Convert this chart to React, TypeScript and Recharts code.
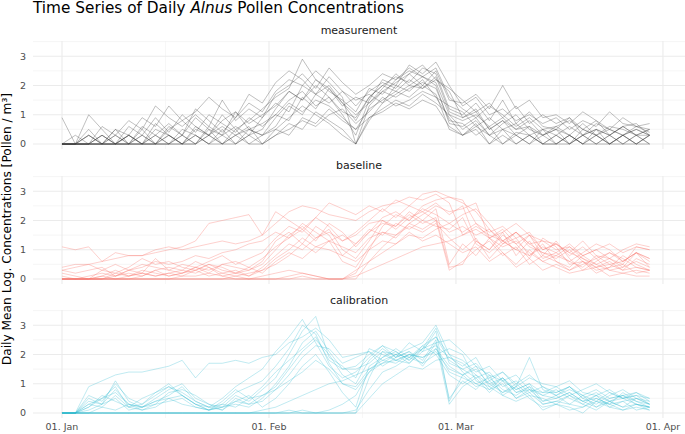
import React from 'react';
import { LineChart, Line, XAxis, YAxis, ReferenceLine } from 'recharts';

// day of year (0 = 01. Jan), every second day
const days = [0, 2, 4, 6, 8, 10, 12, 14, 16, 18, 20, 22, 24, 26, 28, 30, 32, 34, 36, 38, 40, 42, 44,
  46, 48, 50, 52, 54, 56, 58, 60, 62, 64, 66, 68, 70, 72, 74, 76, 78, 80, 82, 84, 86, 88];

const xTicks = [0, 31, 59, 90];
const xTickLabels = ['01. Jan', '01. Feb', '01. Mar', '01. Apr'];
const xMinor = [15.5, 45, 74.5];
const yTicks = [0, 1, 2, 3];
const yMinor = [0.5, 1.5, 2.5, 3.5];

const measurement: number[][] = [
  [0.9, 0, 0.3, 0, 0.5, 0.3, 0.9, 0.6, 1.3, 0.8, 1.1, 1.6, 1.2, 0.9, 1.7, 1.4, 2.1, 2.5, 2.2, 1.7, 2.0, 1.4, 0.8, 1.6, 2.0, 2.3, 2.1, 2.6, 2.4, 1.2, 1.0, 1.4, 0.8, 1.5, 0.7, 1.1, 0.6, 0.5, 0.9, 0.3, 0.7, 0.5, 0.3, 0.6, 0.4],
  [0, 0, 0, 0, 0, 0.3, 0, 0, 0, 0.3, 0, 0.5, 0, 0.3, 0.6, 0, 0.5, 0.9, 1.3, 1.0, 0.7, 0.3, 0, 0.8, 1.4, 1.7, 2.0, 1.9, 2.2, 1.8, 0.9, 1.2, 0.5, 0.8, 0.3, 0.6, 0, 0.3, 0, 0.5, 0.3, 0, 0.3, 0, 0.3],
  [0, 0, 1.0, 0.5, 0, 0.3, 0, 0.7, 0.3, 0, 0.6, 0.3, 1.0, 0.5, 0.8, 1.2, 1.6, 1.9, 2.9, 2.2, 1.8, 1.5, 1.1, 1.9, 1.7, 2.2, 2.5, 2.3, 2.0, 0.7, 0.6, 0.9, 0.3, 0.7, 1.0, 0.5, 0.3, 0.6, 0.3, 0, 0.5, 0.3, 0.6, 0.3, 0],
  [0, 0, 0, 0.3, 0, 0, 0.5, 0, 0.6, 0.3, 0.9, 0.5, 0.3, 1.1, 0.5, 0.3, 0.9, 1.4, 1.1, 1.5, 1.3, 0.9, 0.5, 1.2, 1.5, 1.8, 1.6, 2.0, 1.7, 0.5, 0.3, 0.7, 0, 0.5, 0.3, 0, 0.5, 0, 0.3, 0, 0.3, 0, 0, 0.3, 0],
  [0, 0, 0, 0, 0.3, 0, 0, 0.3, 0, 0, 0.3, 0, 0.5, 0, 0.3, 0.5, 1.2, 1.8, 1.5, 2.0, 1.6, 1.0, 0.3, 1.5, 2.2, 2.0, 2.7, 2.4, 2.8, 2.0, 1.3, 1.6, 1.0, 1.2, 0.8, 1.0, 0.7, 0.9, 0.5, 0.8, 0.6, 1.1, 0.7, 0.6, 0.5],
  [0, 0, 0.3, 0, 0, 0.6, 0.3, 0, 0.5, 0.8, 0.4, 1.0, 0.7, 0.4, 0.9, 0.6, 1.0, 0.8, 1.6, 1.2, 1.9, 1.4, 1.0, 1.4, 1.8, 1.6, 1.9, 2.1, 1.9, 0.8, 0.7, 0.3, 0.6, 0, 0.4, 0.3, 0, 0.3, 0, 0.3, 0.5, 0, 0.3, 0.5, 0.3],
  [0, 0, 0, 0, 0, 0, 0, 0, 0.3, 0, 0, 0.3, 0, 0, 0.5, 0.3, 0.6, 1.3, 1.0, 1.7, 1.4, 1.8, 1.5, 1.7, 1.4, 2.0, 1.8, 2.2, 1.6, 1.3, 1.1, 0.6, 0.9, 0.5, 0.7, 0.3, 0.5, 0.3, 0.6, 0.3, 0, 0.3, 0.6, 0.3, 0.3],
  [0, 0, 0, 0.3, 0, 0.3, 0, 0, 0, 0.5, 0.3, 0, 0.3, 0.6, 0.3, 0.9, 1.4, 1.1, 2.0, 1.7, 2.3, 1.8, 1.3, 1.8, 2.1, 1.9, 2.4, 2.0, 2.5, 1.5, 1.4, 1.7, 1.2, 2.0, 1.2, 1.5, 0.9, 1.0, 0.7, 1.1, 0.8, 0.5, 0.9, 0.6, 0.7],
  [0, 0, 0.3, 0, 0, 0, 0.3, 0, 0, 0.3, 0, 0.6, 0.3, 0, 0.3, 0, 0.3, 0.7, 0.5, 1.1, 0.8, 0.5, 0, 0.9, 1.2, 1.5, 1.3, 1.7, 1.4, 1.0, 0.5, 0.8, 0.3, 0.5, 0, 0.3, 0, 0, 0.3, 0, 0, 0.3, 0, 0, 0.3],
  [0, 0, 0, 0.6, 0.3, 0.8, 0.5, 1.3, 0.9, 0.6, 1.0, 0.6, 1.5, 0.8, 1.2, 0.9, 1.7, 2.0, 2.4, 1.9, 2.6, 2.1, 1.7, 2.0, 2.4, 2.2, 2.6, 2.3, 2.1, 1.0, 0.8, 1.0, 0.6, 0.9, 0.5, 0.8, 0.3, 0.5, 0.3, 0.7, 0.3, 0.5, 0.3, 0.5, 0.3],
  [0, 0.3, 0, 0, 0.5, 0, 0.3, 0.9, 0.4, 1.0, 0.6, 0.3, 0.8, 1.1, 0.7, 1.0, 1.3, 1.8, 1.5, 2.2, 1.9, 1.3, 1.6, 1.4, 1.9, 2.4, 2.0, 2.3, 2.6, 1.6, 1.2, 0.9, 1.3, 1.0, 0.6, 0.9, 0.5, 0.6, 0.8, 0.5, 0.3, 0.6, 0.5, 0.3, 0.5],
  [0, 0, 0, 0, 0, 0, 0, 0.3, 0, 0, 0, 0.3, 0, 0.3, 0, 0, 0.3, 0.5, 0.8, 0.6, 1.0, 1.2, 0.7, 1.1, 1.6, 1.3, 1.5, 1.8, 1.6, 0.9, 0.3, 0.5, 0, 0.3, 0, 0.3, 0, 0, 0.3, 0, 0.3, 0, 0.3, 0, 0],
  [0, 0, 0.5, 0, 0.3, 0, 0.6, 0.3, 0.7, 0.3, 1.2, 0.8, 0.4, 0.9, 1.4, 1.1, 1.8, 2.2, 2.0, 2.5, 2.1, 1.6, 0, 1.3, 1.8, 2.1, 2.4, 2.7, 2.2, 1.9, 1.5, 1.1, 1.4, 0.9, 1.3, 0.7, 1.0, 0.7, 0.9, 0.5, 0.8, 0.3, 0.6, 0.7, 0.3],
  [0, 0, 0, 0, 0, 0.3, 0, 0.5, 0.3, 0, 0.5, 0.3, 0.6, 0.3, 0.5, 0.7, 1.0, 1.5, 1.8, 1.3, 1.6, 1.1, 0.9, 1.6, 2.0, 1.8, 2.2, 1.9, 2.3, 1.1, 0.9, 1.1, 0.5, 0.8, 0.5, 0.6, 0.3, 0.5, 0, 0.3, 0.5, 0.3, 0, 0.3, 0.5],
  [0, 0, 0, 0.3, 0, 0, 0, 0, 0.3, 0, 0.3, 0, 0, 0.5, 0, 0.3, 0.5, 0.3, 0.9, 0.7, 1.2, 0.8, 0.5, 0.9, 1.1, 1.4, 1.2, 1.5, 1.3, 0.6, 0.3, 0.6, 0.3, 0, 0.3, 0, 0.3, 0, 0, 0.3, 0, 0, 0.3, 0, 0.3],
];

const baseline: number[][] = [
  [1.1, 1.0, 1.1, 0.6, 0.9, 0.8, 0.8, 1.0, 1.1, 1.0, 1.1, 1.2, 1.3, 1.2, 1.3, 1.5, 1.9, 2.3, 2.5, 2.4, 2.2, 2.1, 2.0, 2.3, 2.5, 2.6, 2.8, 2.7, 2.9, 2.6, 1.5, 1.8, 1.5, 1.3, 1.6, 1.2, 1.3, 1.0, 1.1, 0.8, 1.0, 1.2, 0.9, 1.1, 1.0],
  [0.4, 0.5, 0.5, 0.6, 0.7, 0.8, 0.8, 0.9, 1.0, 1.1, 1.3, 1.9, 2.0, 2.1, 2.2, 1.5, 2.3, 2.0, 1.7, 2.1, 2.6, 2.4, 2.2, 2.5, 2.3, 2.7, 2.5, 2.9, 3.0, 2.8, 2.7, 1.9, 1.6, 1.8, 1.4, 1.6, 1.0, 1.2, 0.9, 1.3, 0.8, 0.7, 1.0, 1.2, 1.1],
  [0, 0, 0, 0, 0, 0, 0, 0, 0, 0, 0, 0, 0, 0, 0, 0.1, 0.2, 0.3, 0.2, 0.1, 0, 0, 0, 0.6, 1.1, 1.5, 1.9, 2.2, 2.5, 2.3, 2.4, 2.6, 1.4, 1.1, 1.3, 0.9, 0.6, 0.4, 0.2, 0.3, 0.6, 0.9, 0.7, 0.4, 0.3],
  [0.1, 0, 0, 0.1, 0.3, 0.1, 0.2, 0.7, 0.3, 0.2, 0.4, 0.3, 0.5, 0.4, 0.3, 0.6, 1.3, 1.6, 1.2, 1.8, 1.5, 0.8, 1.2, 1.6, 1.9, 1.8, 2.2, 1.9, 2.1, 0.4, 0.5, 1.3, 1.0, 1.5, 1.2, 0.7, 1.4, 1.1, 0.5, 0.6, 0.3, 0.4, 0.8, 0.5, 0.3],
  [0, 0, 0, 0, 0.1, 0.2, 0.1, 0.3, 0.4, 0.3, 0.6, 0.4, 0.2, 0.3, 0.1, 0.4, 0.8, 1.2, 1.0, 1.4, 1.6, 1.3, 1.5, 1.9, 2.0, 1.7, 2.1, 2.3, 2.0, 1.6, 1.8, 1.5, 1.7, 1.2, 1.6, 1.1, 0.9, 0.8, 0.6, 0.9, 1.2, 1.0, 0.6, 0.9, 0.4],
  [0, 0, 0, 0, 0, 0, 0, 0, 0, 0, 0, 0, 0, 0, 0, 0, 0, 0, 0, 0, 0, 0, 0.1, 0.3, 0.5, 0.7, 0.9, 1.1, 1.2, 1.3, 1.5, 1.7, 1.4, 1.6, 1.9, 1.5, 1.3, 1.2, 0.9, 0.7, 0.5, 0.3, 0.2, 0.1, 0.1],
  [0.3, 0.4, 0.5, 0.3, 0.2, 0.4, 0.7, 0.5, 0.6, 0.4, 0.3, 0.5, 0.4, 0.2, 0.3, 0.5, 1.0, 1.5, 1.8, 1.4, 1.7, 1.0, 0.7, 1.3, 2.0, 1.8, 2.3, 2.0, 2.4, 0.5, 1.2, 0.8, 1.4, 0.9, 0.5, 1.0, 0.6, 0.8, 1.1, 0.7, 0.4, 0.6, 0.3, 0.7, 0.5],
  [0, 0, 0.1, 0.2, 0.1, 0.3, 0.2, 0.1, 0.2, 0.1, 0.3, 0.1, 0.2, 0.1, 0.2, 0.3, 0.5, 0.8, 1.2, 0.9, 1.3, 1.1, 0.9, 1.4, 1.6, 1.5, 1.8, 1.6, 1.9, 1.4, 1.0, 1.4, 0.7, 1.2, 1.4, 0.8, 1.1, 0.9, 0.6, 0.4, 0.8, 0.5, 0.6, 0.9, 0.7],
  [0, 0, 0, 0, 0, 0, 0, 0, 0, 0.1, 0.1, 0.2, 0.1, 0, 0, 0, 0, 0, 0.1, 0, 0, 0, 0.2, 1.0, 1.8, 2.2, 2.0, 2.5, 2.7, 2.8, 2.6, 2.3, 1.7, 1.3, 1.0, 1.5, 0.8, 1.3, 0.7, 0.3, 0.4, 0.1, 0.2, 0.3, 0.2],
  [0.2, 0.1, 0, 0.3, 0.5, 0.3, 0.4, 0.6, 0.5, 0.6, 0.8, 0.7, 0.9, 1.0, 1.2, 1.3, 1.6, 1.4, 1.9, 1.6, 1.3, 1.5, 1.2, 1.7, 1.5, 1.9, 1.7, 2.0, 1.8, 1.7, 2.1, 1.2, 0.9, 1.3, 1.0, 0.8, 1.2, 0.6, 0.4, 0.8, 1.0, 0.7, 0.5, 1.1, 1.0],
  [0, 0, 0, 0, 0, 0, 0.1, 0.3, 0.1, 0.2, 0.4, 0.2, 0.5, 0.6, 0.4, 0.7, 1.1, 1.4, 1.7, 1.3, 1.9, 1.6, 1.1, 1.6, 2.1, 2.3, 2.0, 2.4, 2.2, 1.9, 1.6, 1.9, 1.4, 1.7, 1.2, 1.5, 1.0, 1.2, 0.8, 1.1, 0.7, 0.9, 0.6, 0.9, 0.6],
  [0, 0, 0, 0, 0, 0, 0, 0, 0, 0, 0, 0, 0, 0.1, 0, 0, 0, 0.1, 0.2, 0.1, 0, 0, 0.3, 0.6, 0.9, 1.2, 1.5, 1.4, 1.7, 1.9, 2.2, 2.4, 1.9, 1.3, 1.6, 1.2, 0.9, 0.7, 1.0, 0.6, 0.4, 0.5, 0.3, 0.4, 0.3],
  [0.3, 0.2, 0.3, 0.4, 0.1, 0.3, 0.5, 0.4, 0.3, 0.5, 0.4, 0.6, 0.8, 0.5, 0.7, 0.9, 1.4, 1.8, 1.6, 2.1, 1.8, 1.3, 1.6, 2.0, 2.4, 2.1, 2.5, 2.3, 2.6, 2.2, 2.5, 1.3, 1.0, 1.6, 0.8, 1.3, 0.7, 0.9, 1.2, 0.8, 0.5, 0.7, 0.4, 0.9, 0.7],
  [0, 0, 0, 0.1, 0, 0.1, 0.2, 0.1, 0.2, 0.3, 0.2, 0.4, 0.1, 0.2, 0.4, 0.2, 0.6, 0.9, 0.7, 1.1, 1.0, 0.8, 0.6, 1.0, 1.3, 1.2, 1.6, 1.3, 1.5, 1.2, 0.9, 1.1, 0.6, 0.9, 0.4, 0.7, 0.3, 0.5, 0.3, 0.6, 0.2, 0.4, 0.5, 0.2, 0.3],
  [0, 0, 0, 0, 0.2, 0.1, 0.3, 0.2, 0.1, 0.2, 0.3, 0.5, 0.3, 0.2, 0.1, 0.3, 0.7, 1.0, 1.4, 1.1, 1.3, 0.6, 0.4, 1.1, 1.6, 1.4, 1.9, 1.7, 2.0, 0.3, 0.6, 1.0, 1.3, 0.8, 1.1, 0.5, 0.8, 0.6, 0.3, 0.5, 0.7, 0.3, 0.4, 0.6, 0.4],
];

const calibration: number[][] = [
  [0, 0, 0.9, 1.1, 1.3, 1.4, 1.4, 1.5, 1.6, 1.8, 1.2, 1.7, 1.7, 1.8, 1.7, 1.9, 2.0, 2.4, 2.6, 2.9, 2.5, 1.9, 2.0, 2.1, 1.8, 2.0, 1.9, 2.2, 2.6, 1.8, 1.5, 1.7, 1.2, 1.4, 1.0, 1.3, 0.9, 0.7, 0.9, 0.6, 0.8, 0.5, 0.6, 0.4, 0.3],
  [0, 0, 0.5, 0.3, 1.1, 0.4, 0.2, 0.5, 0.8, 1.0, 0.5, 0.3, 0.2, 0.6, 0.4, 0.8, 1.2, 2.0, 2.8, 3.3, 1.9, 1.6, 1.2, 2.2, 2.0, 1.8, 1.7, 2.1, 2.8, 0.4, 1.3, 0.9, 1.1, 0.7, 1.0, 0.6, 0.5, 0.3, 0.6, 0.4, 0.5, 0.3, 0.7, 0.4, 0.2],
  [0, 0, 0, 0, 0, 0, 0, 0, 0, 0, 0, 0, 0, 0, 0, 0, 0, 0, 0, 0, 0, 0, 0, 1.2, 2.1, 2.0, 1.7, 2.2, 2.4, 2.5, 2.1, 1.6, 1.3, 1.1, 0.8, 1.0, 0.4, 0.6, 0.3, 0.2, 0.5, 0.3, 0.4, 0.1, 0.2],
  [0, 0, 0.3, 0.5, 0.9, 0.2, 0.3, 0.6, 0.9, 0.7, 0.4, 0.2, 0.1, 0.4, 0.6, 0.2, 0.5, 1.0, 1.6, 2.0, 1.4, 0.7, 0.2, 1.6, 1.9, 2.1, 1.8, 2.3, 2.0, 1.3, 1.0, 1.3, 0.8, 1.2, 0.7, 0.9, 0.6, 0.8, 0.5, 0.3, 0.6, 0.4, 0.2, 0.5, 0.3],
  [0, 0, 0, 0.2, 0.1, 0.3, 0.2, 0.4, 0.5, 0.3, 0.2, 0.1, 0.3, 0.2, 0.5, 0.9, 1.4, 1.8, 2.2, 2.6, 1.8, 1.5, 1.6, 2.0, 2.3, 1.9, 2.4, 2.1, 2.3, 1.9, 1.6, 1.9, 1.1, 1.4, 0.9, 1.2, 1.0, 0.9, 1.1, 0.7, 0.6, 0.8, 0.5, 0.7, 0.5],
  [0, 0, 0, 0, 0, 0, 0, 0, 0, 0, 0, 0, 0, 0, 0, 0.1, 0.2, 0.4, 0.6, 0.8, 1.0, 1.1, 1.3, 1.5, 1.7, 1.8, 2.0, 1.9, 2.2, 1.6, 1.3, 1.5, 1.0, 1.2, 0.7, 0.8, 0.4, 0.5, 0.7, 0.4, 0.2, 0.5, 0.6, 0.3, 0.2],
  [0, 0, 0.6, 0.4, 1.0, 0.5, 0.3, 0.7, 1.0, 0.6, 0.3, 0.1, 0.4, 0.8, 0.5, 0.6, 0.9, 1.5, 2.1, 2.5, 2.0, 1.3, 1.0, 1.8, 2.2, 1.9, 2.1, 1.8, 2.5, 0.5, 1.1, 0.8, 1.3, 0.6, 0.9, 1.9, 0.8, 0.6, 0.9, 0.5, 0.3, 0.6, 0.8, 0.5, 0.4],
  [0, 0, 0.2, 0.5, 0.7, 0.3, 0.2, 0.4, 0.6, 0.9, 0.4, 0.2, 0.3, 0.7, 0.9, 1.1, 1.6, 2.2, 3.0, 2.7, 1.7, 1.0, 0.8, 1.4, 1.7, 2.0, 2.2, 2.4, 3.0, 2.0, 1.8, 1.4, 1.6, 1.1, 1.3, 0.8, 0.7, 0.9, 0.6, 0.8, 1.0, 0.7, 0.5, 0.6, 0.5],
  [0, 0, 0, 0, 0, 0, 0, 0, 0, 0, 0, 0, 0, 0, 0, 0, 0, 0, 0.1, 0, 0, 0, 0.1, 0.8, 1.4, 1.6, 1.9, 1.7, 2.0, 2.2, 2.0, 1.1, 0.9, 0.6, 0.4, 0.6, 0.1, 0.3, 0.2, 0, 0.4, 0.3, 0.1, 0.2, 0.1],
  [0, 0, 0.4, 0.3, 0.8, 0.3, 0.1, 0.3, 0.7, 0.8, 0.6, 0.3, 0.1, 0.5, 0.3, 0.4, 0.8, 1.3, 1.9, 2.3, 2.2, 1.7, 1.9, 2.1, 1.6, 1.9, 2.1, 1.6, 2.2, 1.4, 1.2, 1.0, 0.8, 1.0, 0.5, 0.7, 0.3, 0.4, 0.3, 0.6, 0.2, 0.4, 0.5, 0.3, 0.1],
  [0, 0, 0.2, 0.6, 0.4, 0.2, 0.5, 0.7, 0.9, 0.6, 0.3, 0.2, 0.5, 0.9, 1.2, 1.5, 2.1, 2.6, 3.2, 2.4, 1.6, 1.2, 1.4, 1.9, 2.3, 2.1, 1.8, 2.2, 2.9, 1.7, 1.5, 1.2, 1.4, 0.9, 1.1, 0.7, 0.9, 0.6, 0.8, 0.6, 0.4, 0.7, 0.5, 0.6, 0.3],
  [0, 0, 0, 0, 0, 0, 0, 0, 0, 0, 0, 0, 0, 0, 0, 0, 0, 0, 0, 0, 0.1, 0.3, 0.6, 1.4, 1.9, 2.2, 1.9, 2.3, 2.6, 2.0, 1.4, 1.0, 1.2, 0.8, 0.6, 0.9, 0.3, 0.4, 0.6, 0.3, 0.1, 0.4, 0.2, 0.3, 0.2],
  [0, 0, 0.3, 0.2, 0.6, 0.2, 0.1, 0.2, 0.5, 0.6, 0.3, 0.1, 0.2, 0.3, 0.2, 0.5, 1.0, 1.6, 2.4, 2.8, 2.1, 1.5, 1.5, 1.7, 2.1, 1.8, 2.0, 1.7, 2.4, 0.3, 0.9, 1.2, 0.7, 1.1, 0.5, 0.8, 0.6, 0.5, 0.7, 0.4, 0.6, 0.2, 0.4, 0.5, 0.3],
  [0, 0, 0.1, 0.3, 0.5, 0.1, 0.2, 0.3, 0.4, 0.5, 0.2, 0.1, 0.2, 0.4, 0.3, 0.6, 0.8, 1.1, 1.4, 1.8, 1.5, 1.0, 0.9, 1.5, 1.8, 1.7, 2.0, 1.9, 2.1, 1.5, 1.3, 1.6, 0.9, 1.2, 0.8, 1.0, 0.7, 0.7, 0.9, 0.5, 0.7, 0.4, 0.6, 0.7, 0.4],
  [0, 0, 0, 0, 0, 0, 0, 0, 0, 0, 0, 0, 0, 0, 0, 0, 0, 0.1, 0, 0, 0, 0, 0, 0.5, 1.0, 1.3, 1.6, 1.5, 1.8, 1.9, 1.7, 1.3, 1.0, 0.7, 0.9, 0.5, 0.2, 0.3, 0.1, 0.2, 0.4, 0.2, 0.1, 0.3, 0.2],
];

const toRows = (series: number[][]) =>
  days.map((d, i) => {
    const row: Record<string, number> = { day: d };
    series.forEach((s, k) => { row['s' + k] = s[i]; });
    return row;
  });

const W = 685;
const PLOT_H = 108;
const X_DOMAIN: [number, number] = [-4.34, 93.3];
const Y_DOMAIN: [number, number] = [-0.17, 3.52];
const tickStyle = { fill: '#4d4d4d', fontSize: 9.5 };

const Panel = ({ series, color, opacity, top, showX }: {
  series: number[][]; color: string; opacity: number; top: number; showX: boolean;
}) => {
  const rows = toRows(series);
  return (
    <div style={{ position: 'absolute', left: 0, top }}>
      <LineChart width={W} height={PLOT_H + (showX ? 16 : 0)} data={rows}
        margin={{ top: 0, right: 0, bottom: 0, left: 0 }}>
        <XAxis dataKey="day" type="number" domain={X_DOMAIN} allowDataOverflow hide={!showX}
          ticks={xTicks} tickFormatter={(v: number) => xTickLabels[xTicks.indexOf(v)]}
          axisLine={false} tickLine={false} tickSize={3} tickMargin={2} height={16}
          tick={tickStyle} interval={0} />
        <YAxis type="number" domain={Y_DOMAIN} allowDataOverflow ticks={yTicks} width={33}
          axisLine={false} tickLine={false} tickSize={6} tickMargin={1} tick={tickStyle} interval={0} />
        {yMinor.map(v => <ReferenceLine key={'ym' + v} y={v} stroke="#f0f0f0" strokeWidth={0.6} />)}
        {xMinor.map(v => <ReferenceLine key={'xm' + v} x={v} stroke="#f0f0f0" strokeWidth={0.6} />)}
        {yTicks.map(v => <ReferenceLine key={'y' + v} y={v} stroke="#ebebeb" strokeWidth={1.1} />)}
        {xTicks.map(v => <ReferenceLine key={'x' + v} x={v} stroke="#ebebeb" strokeWidth={1.1} />)}
        {series.map((_, k) => (
          <Line key={k} type="linear" dataKey={'s' + k} stroke={color} strokeOpacity={opacity}
            strokeWidth={1} dot={false} activeDot={false} isAnimationActive={false} />
        ))}
      </LineChart>
    </div>
  );
};

export default function App() {
  return (
    <div style={{ position: 'absolute', left: 0, top: 0, width: W, height: 434, background: '#fff',
      fontFamily: '"DejaVu Sans", sans-serif', overflow: 'hidden' }}>
      <Panel series={measurement} color="#3a3a3a" opacity={0.32} top={41} showX={false} />
      <Panel series={baseline} color="#F8766D" opacity={0.34} top={176} showX={false} />
      <Panel series={calibration} color="#2fb8d2" opacity={0.3} top={310} showX={true} />
      <svg width={W} height={434} style={{ position: 'absolute', left: 0, top: 0, pointerEvents: 'none' }}>
        <text x={33} y={13.3} fontSize={15.3} fill="#000">
          Time Series of Daily <tspan fontStyle="italic">Alnus</tspan> Pollen Concentrations
        </text>
        <text x={359} y={34.3} fontSize={11} fill="#1a1a1a" textAnchor="middle">measurement</text>
        <text x={359} y={169} fontSize={11} fill="#1a1a1a" textAnchor="middle">baseline</text>
        <text x={359} y={304} fontSize={11} fill="#1a1a1a" textAnchor="middle">calibration</text>
        <text transform="translate(11,229) rotate(-90)" fontSize={12.2} fill="#000" textAnchor="middle">
          Daily Mean Log. Concentrations [Pollen / m³]
        </text>
      </svg>
    </div>
  );
}
